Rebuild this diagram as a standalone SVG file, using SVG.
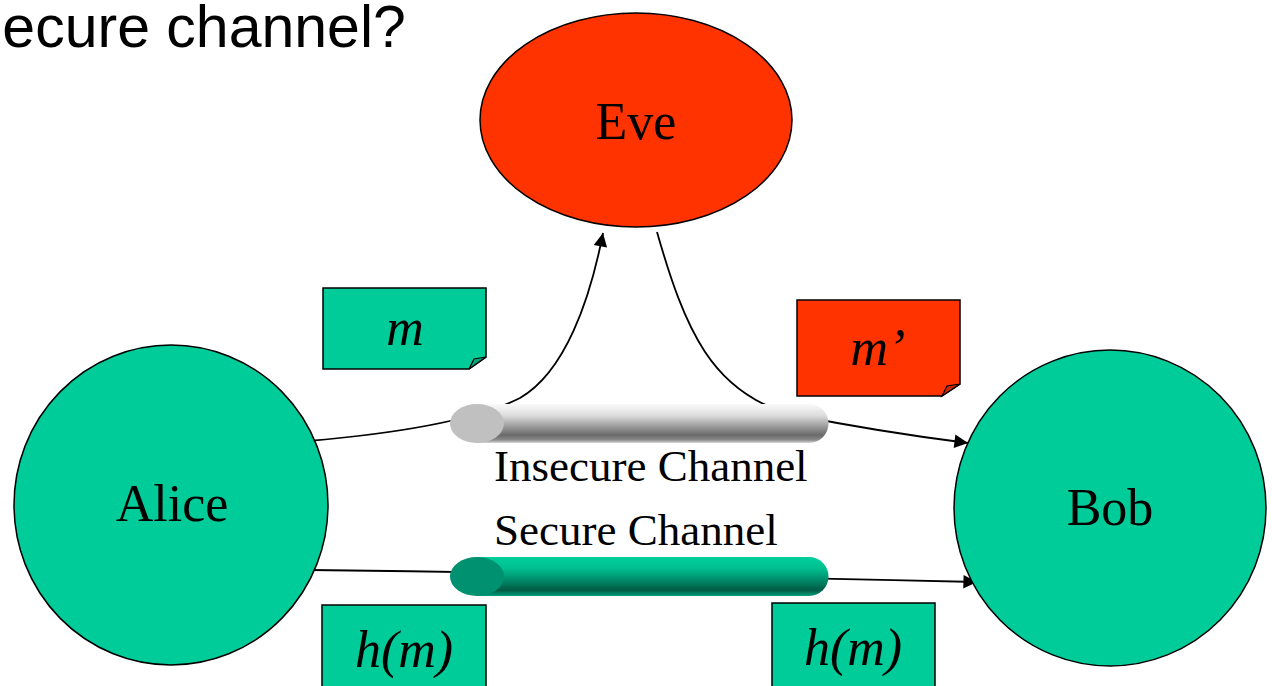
<svg xmlns="http://www.w3.org/2000/svg" width="1272" height="686" viewBox="0 0 1272 686">
<defs>
<style>
.node{stroke:#000;stroke-width:1.5}
.green{fill:#00CC99}
.red{fill:#FF3300}
.lbl{font-family:"Liberation Serif","Times New Roman",serif;font-size:52px;fill:#000;text-anchor:middle}
.ital{font-style:italic}
.chan{font-family:"Liberation Serif","Times New Roman",serif;font-size:45px;fill:#000}
.conn{fill:none;stroke:#000;stroke-width:1.8}
.fold{stroke:#000;stroke-width:1.2}
</style>
<marker id="arr" viewBox="0 0 10 10" refX="10" refY="5" markerWidth="8" markerHeight="8" markerUnits="userSpaceOnUse" orient="auto" style="overflow:visible">
<path d="M0,0 L10,5 L0,10 z" fill="#000" transform="scale(1.7) translate(-4.1,-2.06)"/>
</marker>
<linearGradient id="gGray" x1="0" y1="0" x2="0" y2="1">
<stop offset="0" stop-color="#fafafa"/>
<stop offset="0.3" stop-color="#dcdcdc"/>
<stop offset="0.6" stop-color="#969696"/>
<stop offset="0.8" stop-color="#6a6a6a"/>
<stop offset="0.92" stop-color="#8a8a8a"/>
<stop offset="1" stop-color="#d8d8d8"/>
</linearGradient>
<linearGradient id="gGreen" x1="0" y1="0" x2="0" y2="1">
<stop offset="0" stop-color="#00D09C"/>
<stop offset="0.3" stop-color="#00BE8F"/>
<stop offset="0.6" stop-color="#008A68"/>
<stop offset="0.85" stop-color="#005A44"/>
<stop offset="1" stop-color="#00A07A"/>
</linearGradient>
</defs>
<rect width="1272" height="686" fill="#fff"/>
<text x="-37" y="47" style="font-family:'Liberation Sans',Arial,sans-serif;font-size:59px;fill:#000">Secure channel?</text>

<g id="connectors">
<path class="conn" d="M308,441 Q460,428 520,398 C565,372 590,300 603,233" marker-end="url(#arr)"/>
<path class="conn" d="M657,232 C685,330 712,392 790,414 Q880,432 968,443" marker-end="url(#arr)"/>
<path class="conn" d="M310,570 Q640,574 977,582" marker-end="url(#arr)"/>
</g>

<g id="insecure-channel">
<path d="M477,404 L809,404 A19.5,19.5 0 0 1 809,443 L477,443 Z" fill="url(#gGray)"/>
<ellipse cx="477" cy="423.5" rx="27" ry="19.5" fill="#C0C0C0"/>
<text class="chan" x="494" y="481">Insecure Channel</text>
</g>

<g id="secure-channel">
<path d="M477,557 L809,557 A19.5,19.5 0 0 1 809,596 L477,596 Z" fill="url(#gGreen)"/>
<ellipse cx="477" cy="576.5" rx="27" ry="19.5" fill="#009270"/>
<text class="chan" x="494" y="545">Secure Channel</text>
</g>

<g id="eve">
<ellipse class="node red" cx="636" cy="120" rx="156" ry="107"/>
<text class="lbl" x="636" y="139">Eve</text>
</g>

<g id="alice">
<ellipse class="node green" cx="171" cy="505" rx="157" ry="160"/>
<text class="lbl" x="172" y="521">Alice</text>
</g>

<g id="bob">
<ellipse class="node green" cx="1110" cy="508" rx="156" ry="158"/>
<text class="lbl" x="1110" y="525">Bob</text>
</g>

<g id="note-m">
<path class="node green" d="M323,288 L486,288 L486,357 L469,369 L323,369 Z"/>
<path class="fold" d="M469,369 L474,359 L486,357 Z" fill="#00A67C"/>
<text class="lbl ital" x="405" y="345">m</text>
</g>

<g id="note-m-prime">
<path class="node red" d="M797,300 L960,300 L960,384 L942,396 L797,396 Z"/>
<path class="fold" d="M942,396 L947,386 L960,384 Z" fill="#CC2900"/>
<text class="lbl ital" x="878" y="365">m’</text>
</g>

<g id="hash-left">
<rect class="node green" x="322" y="605" width="164" height="90"/>
<text class="lbl ital" x="404" y="667">h(m)</text>
</g>

<g id="hash-right">
<rect class="node green" x="772" y="603" width="163" height="92"/>
<text class="lbl ital" x="853" y="665">h(m)</text>
</g>
</svg>
